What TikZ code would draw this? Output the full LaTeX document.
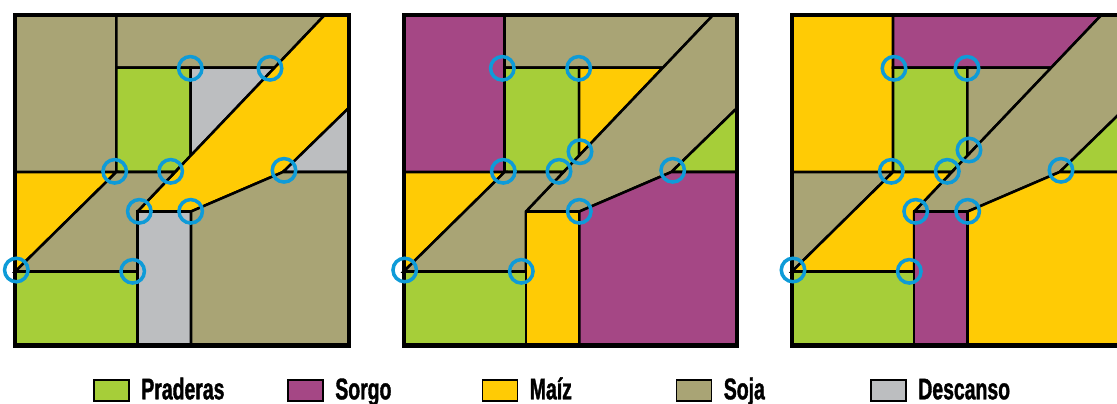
\documentclass[tikz,border=0pt]{standalone}
\usepackage{fontspec}
\setmainfont[FakeStretch=0.65,FakeBold=1.2]{Liberation Sans Bold}
\definecolor{prad}{HTML}{A6CE39}
\definecolor{sorgo}{HTML}{A54785}
\definecolor{maiz}{HTML}{FFCB05}
\definecolor{soja}{HTML}{A9A475}
\definecolor{desc}{HTML}{BCBEC0}
\definecolor{aro}{HTML}{0E9BD8}
\tikzstyle{parcela}=[draw=black,line width=1.45pt]
\tikzstyle{marco}=[draw=black,line width=2.5pt]
\tikzstyle{ring}=[circle,draw=aro,line width=2pt,minimum size=0.47cm,inner sep=0pt]
\tikzstyle{swatch}=[draw=black,line width=1.1pt,minimum width=0.7cm,minimum height=0.43cm,inner sep=0pt]
\tikzstyle{leyenda}=[anchor=base west,inner sep=0pt,font=\fontsize{17}{18}\selectfont]

\begin{document}
\begin{tikzpicture}[x=0.02cm,y=-0.02cm]
    \clip (0,0) rectangle (1117,403);
    % the three panels share their plots, only the crops change
    \foreach \sx/\ca/\cb/\cc/\cd/\ce/\cf/\cg/\ch/\ci in {15/soja/soja/desc/maiz/desc/maiz/soja/desc/soja,
                                                        403.4/sorgo/soja/maiz/soja/prad/maiz/soja/maiz/sorgo,
                                                        791.7/maiz/sorgo/soja/soja/prad/soja/maiz/sorgo/maiz}
    {
    \begin{scope}[shift={(\sx,13)}]
        \path[parcela,fill=\ca] (0.3,1.7) -- (101.3,1.7) -- (101.3,159) -- (0.3,159) -- cycle;
        \path[parcela,fill=\cb] (101.3,1.7) -- (310,1.7) -- (259.5,54.7) -- (101.3,54.7) -- cycle;
        \path[parcela,fill=prad] (101.3,54.7) -- (175.7,54.7) -- (175.7,142.7) -- (160.1,159) -- (101.3,159) -- cycle;
        \path[parcela,fill=\cc] (175.7,54.7) -- (259.5,54.7) -- (175.7,142.7) -- cycle;
        \path[parcela,fill=\cd] (310,1.7) -- (333.7,1.7) -- (333.7,95) -- (268,159) -- (176,198.5) -- (122.5,198.5) -- cycle;
        \path[parcela,fill=\ce] (333.7,95) -- (333.7,159) -- (268,159) -- cycle;
        \path[parcela,fill=\cf] (0.3,159) -- (101.3,159) -- (0.3,258.5) -- cycle;
        \path[parcela,fill=\cg] (101.3,159) -- (160.1,159) -- (122.5,198.5) -- (122.5,258.5) -- (0.3,258.5) -- cycle;
        \path[parcela,fill=prad] (0.3,258.5) -- (122.5,258.5) -- (122.5,332.5) -- (0.3,332.5) -- cycle;
        \path[parcela,fill=\ch] (122.5,198.5) -- (176,198.5) -- (176,332.5) -- (122.5,332.5) -- cycle;
        \path[parcela,fill=\ci] (176,198.5) -- (268,159) -- (333.7,159) -- (333.7,332.5) -- (176,332.5) -- cycle;
        \path[marco] (0.3,1.7) rectangle (333.7,332.5);
    \end{scope}
    }

    % rings, first panel
    \node[ring] (a1) at (190.3,68.3) {};
    \node[ring] (a2) at (270,68.3) {};
    \node[ring] (a3) at (114.7,171.3) {};
    \node[ring] (a4) at (170.7,171.3) {};
    \node[ring] (a5) at (139.3,211.3) {};
    \node[ring] (a6) at (190.7,211.3) {};
    \node[ring] (a7) at (284,170.3) {};
    \node[ring] (a8) at (16.3,270) {};
    \node[ring] (a9) at (132.7,271.3) {};
    % second panel
    \node[ring] (b1) at (502.3,68.3) {};
    \node[ring] (b2) at (578.7,68.3) {};
    \node[ring] (b3) at (503.3,171.3) {};
    \node[ring] (b4) at (559,171.3) {};
    \node[ring] (b5) at (580,151.7) {};
    \node[ring] (b6) at (579.3,211.3) {};
    \node[ring] (b7) at (672.7,170.3) {};
    \node[ring] (b8) at (404.7,270) {};
    \node[ring] (b9) at (521.3,271.3) {};
    % third panel
    \node[ring] (c1) at (894,68.3) {};
    \node[ring] (c2) at (967,68.3) {};
    \node[ring] (c3) at (891.3,171.3) {};
    \node[ring] (c4) at (947.3,171.3) {};
    \node[ring] (c5) at (969,150) {};
    \node[ring] (c6) at (915.7,211.3) {};
    \node[ring] (c7) at (967.7,211.3) {};
    \node[ring] (c8) at (1061,170.3) {};
    \node[ring] (c9) at (793,270) {};
    \node[ring] (c10) at (909.3,271.3) {};

    % legend
    \node[swatch,fill=prad] (sprad) at (111.3,390.5) {};
    \node[swatch,fill=sorgo] (ssorgo) at (305.7,390.5) {};
    \node[swatch,fill=maiz] (smaiz) at (500,390.5) {};
    \node[swatch,fill=soja] (ssoja) at (694,390.5) {};
    \node[swatch,fill=desc] (sdesc) at (888.3,390.5) {};
    \node[leyenda] (tprad) at (141,399.3) {Praderas};
    \node[leyenda] (tsorgo) at (335,399.3) {Sorgo};
    \node[leyenda] (tmaiz) at (529.5,399.3) {Maíz};
    \node[leyenda] (tsoja) at (723.5,399.3) {Soja};
    \node[leyenda] (tdesc) at (918,399.3) {Descanso};
\end{tikzpicture}
\end{document}
